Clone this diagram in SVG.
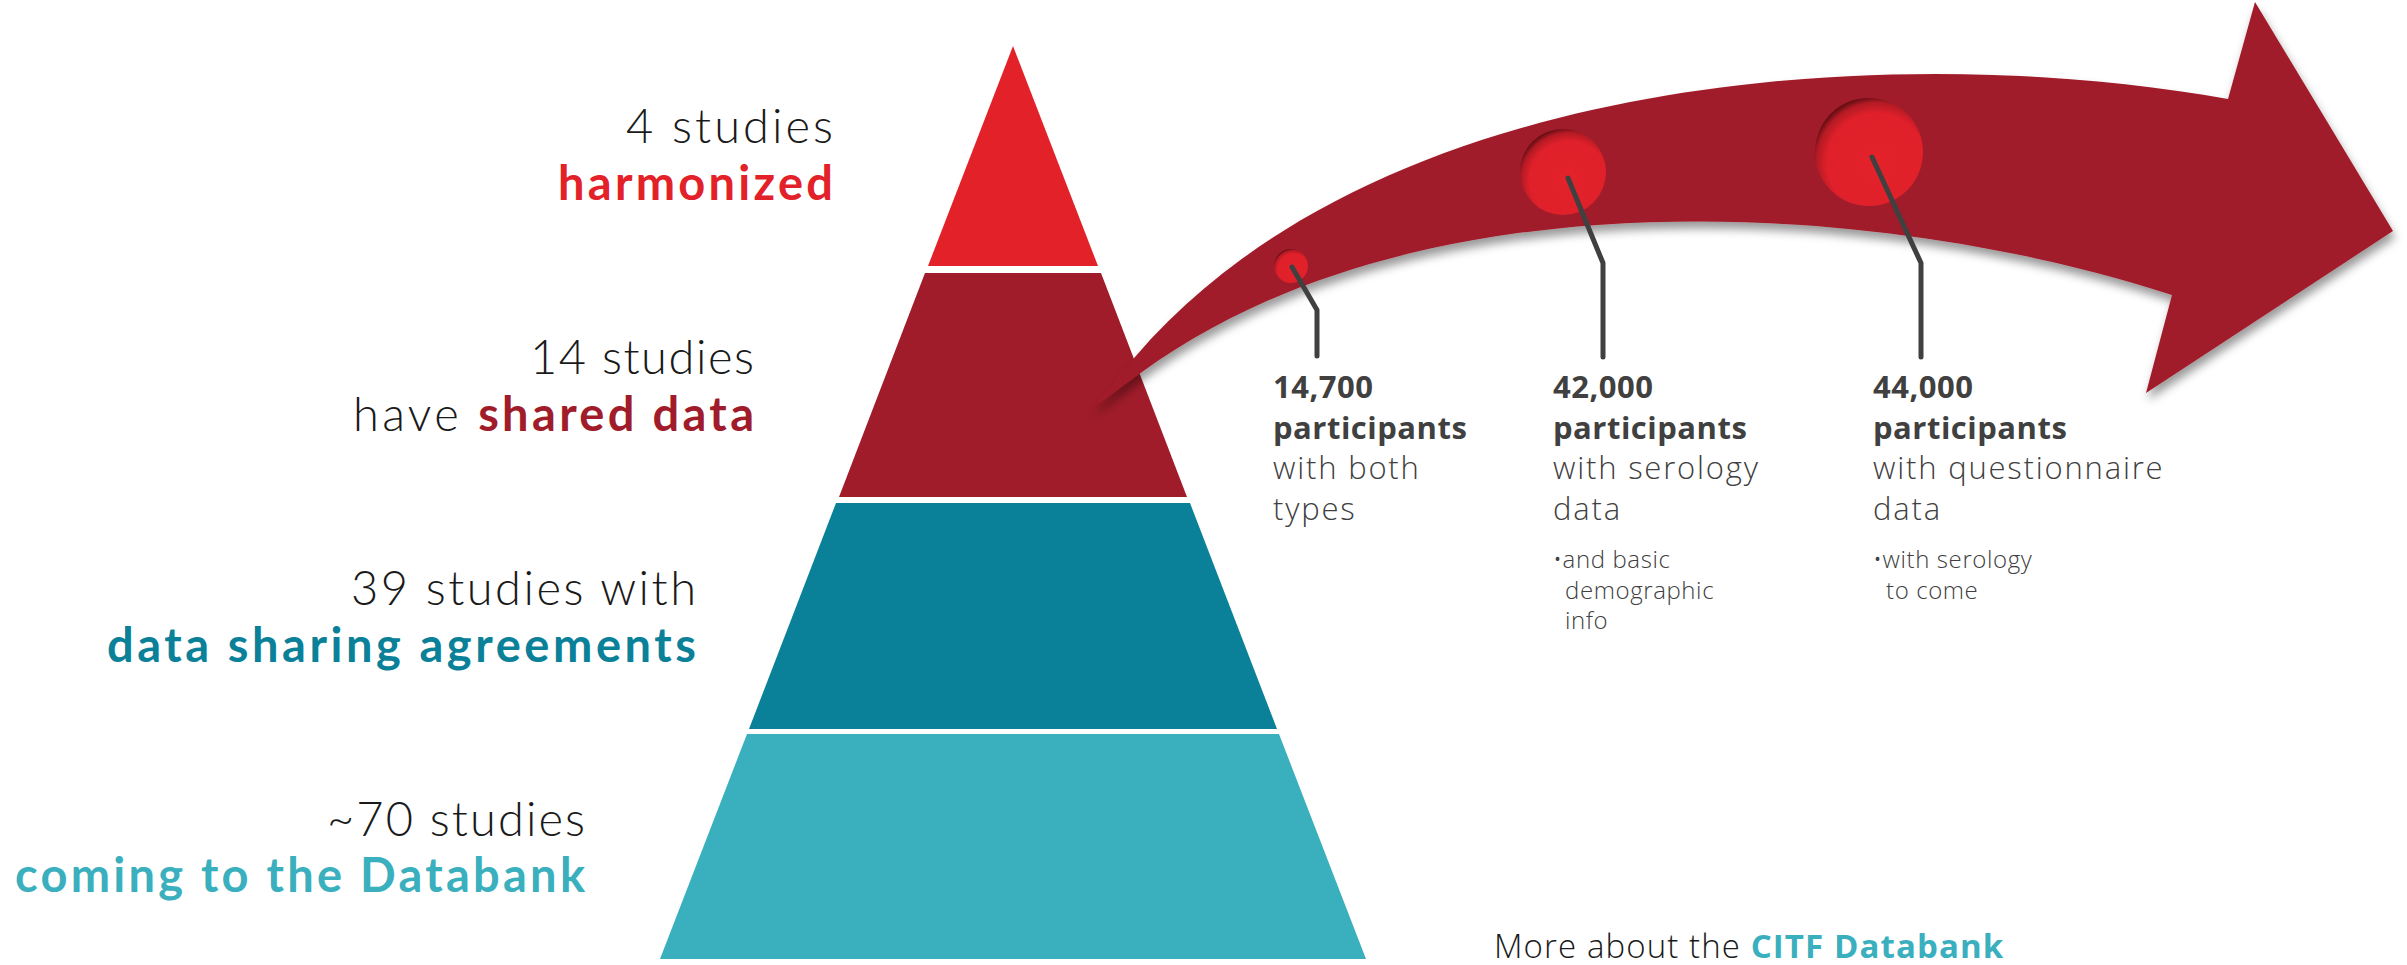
<svg xmlns="http://www.w3.org/2000/svg" width="2407" height="965" viewBox="0 0 2407 965">
<style>
text{font-family:"Open Sans","Liberation Sans",sans-serif}
.lbl{font-family:Lato,"Open Sans",sans-serif;font-size:47px;font-weight:300;fill:#1a1a1a;text-anchor:end}
.b{font-weight:700}
.info{font-size:31px;font-weight:300;fill:#404040;letter-spacing:1.8px}
.num{font-weight:700;letter-spacing:0.5px}
.sub{font-size:24px;font-weight:300;fill:#404040;letter-spacing:0.6px}
.leader{fill:none;stroke:#404040;stroke-width:5;stroke-linecap:round;stroke-linejoin:round}
.ball{stroke:none}
</style>
<defs>
<filter id="shadow" x="-10%" y="-20%" width="120%" height="150%">
<feDropShadow dx="2" dy="7" stdDeviation="5" flood-color="#000" flood-opacity="0.4"/>
</filter>
<radialGradient id="ballGrad" cx="0.57" cy="0.6" r="0.62">
<stop offset="0" stop-color="#e3222a"/>
<stop offset="0.74" stop-color="#e0202a"/>
<stop offset="0.9" stop-color="#b31a24"/>
<stop offset="1" stop-color="#5e0c13"/>
</radialGradient>
</defs>

<g id="pyramid">
<polygon id="tier-harmonized" points="1013,46 1098,266 928,266" fill="#e32128"/>
<polygon id="tier-shared" points="925,273 1101,273 1187,497 839,497" fill="#a01c2a"/>
<polygon id="tier-agreements" points="836,503 1190,503 1277,729 749,729" fill="#0a8199"/>
<polygon id="tier-coming" points="747,734 1279,734 1366,959 660,959" fill="#3aafbe"/>
</g>

<g id="connectors">
<path id="arrow" d="M1090,410 L1135,357 C1380,70 1900,40 2228,99 L2255,2 L2393,231 L2146,393 L2172,295 C1880,200 1420,170 1142,372 Z" fill="#a01c2a" filter="url(#shadow)"/>
<circle class="ball" cx="1291" cy="266" r="17" fill="url(#ballGrad)"/>
<circle class="ball" cx="1563" cy="172" r="43" fill="url(#ballGrad)"/>
<circle class="ball" cx="1869" cy="152" r="54" fill="url(#ballGrad)"/>
<path class="leader" d="M1292,267 L1317,310 L1317,356"/>
<path class="leader" d="M1568,178 L1603,263 L1603,357"/>
<path class="leader" d="M1872,157 L1921,263 L1921,357"/>
</g>

<g id="label-harmonized">
<text class="lbl"><tspan x="833" y="143" textLength="207">4 studies</tspan><tspan class="b" x="833" y="200" textLength="275" style="fill:#e32128">harmonized</tspan></text>
</g>
<g id="label-shared">
<text class="lbl"><tspan x="754" y="374" textLength="224">14 studies</tspan><tspan x="754" y="431" textLength="401">have <tspan class="b" style="fill:#a01c2a">shared data</tspan></tspan></text>
</g>
<g id="label-agreements">
<text class="lbl"><tspan x="696" y="605" textLength="345">39 studies with</tspan><tspan class="b" x="696" y="662" textLength="589" style="fill:#0a8199">data sharing agreements</tspan></text>
</g>
<g id="label-coming">
<text class="lbl"><tspan x="585" y="836" textLength="258">~70 studies</tspan><tspan class="b" x="585" y="892" textLength="570" style="fill:#3aafbe">coming to the Databank</tspan></text>
</g>

<g id="info-both">
<text class="info" x="1273" y="398"><tspan class="num">14,700</tspan><tspan class="num" x="1273" dy="40.5">participants</tspan><tspan x="1273" dy="40.5">with both</tspan><tspan x="1273" dy="40.5">types</tspan></text>
</g>
<g id="info-serology">
<text class="info" x="1553" y="398"><tspan class="num">42,000</tspan><tspan class="num" x="1553" dy="40.5">participants</tspan><tspan x="1553" dy="40.5">with serology</tspan><tspan x="1553" dy="40.5">data</tspan></text>
<text class="sub" x="1553" y="568">•and basic<tspan x="1565" dy="30.5">demographic</tspan><tspan x="1565" dy="30.5">info</tspan></text>
</g>
<g id="info-questionnaire">
<text class="info" x="1873" y="398"><tspan class="num">44,000</tspan><tspan class="num" x="1873" dy="40.5">participants</tspan><tspan x="1873" dy="40.5">with questionnaire</tspan><tspan x="1873" dy="40.5">data</tspan></text>
<text class="sub" x="1873" y="568">•with serology<tspan x="1886" dy="30.5">to come</tspan></text>
</g>

<g id="more-link">
<text x="1494" y="958" style="font-size:33px;font-weight:300;fill:#1a1a1a;letter-spacing:1.1px">More about the <tspan style="font-weight:700;fill:#3aafbe">CITF Databank</tspan></text>
</g>
</svg>
